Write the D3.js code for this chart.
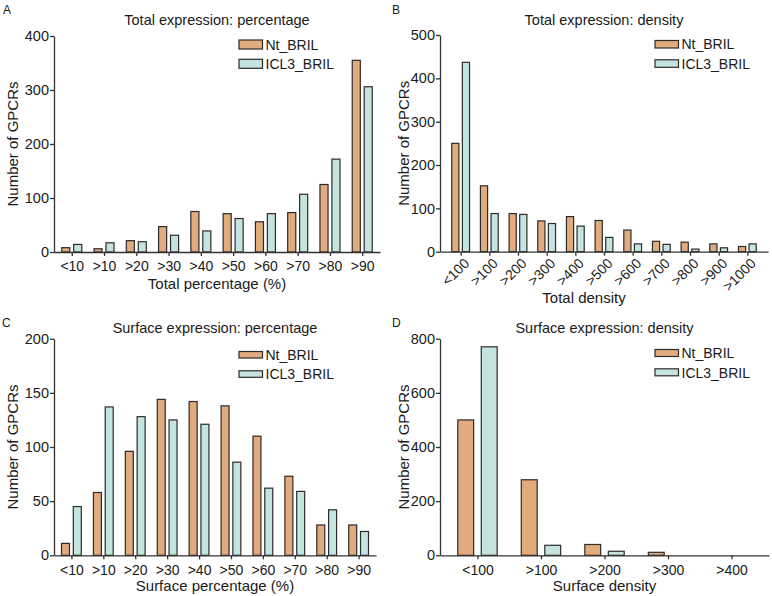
<!DOCTYPE html>
<html><head><meta charset="utf-8">
<script src="https://cdn.jsdelivr.net/npm/d3@7"></script>
<style>
html,body{margin:0;padding:0;background:#fff;}
svg{display:block;font-family:"Liberation Sans",Arial,Helvetica,sans-serif;}
</style></head>
<body>
<svg id="chart" width="772" height="596"></svg>
<script>
// ---- data ----
const seriesNames = ["Nt_BRIL", "ICL3_BRIL"];
const seriesColors = ["#E2AB7E", "#C6E4DF"];

const catsA = ["<10", ">10", ">20", ">30", ">40", ">50", ">60", ">70", ">80", ">90"];
const ntA   = [8, 6, 21, 47, 75, 71, 56, 73, 125, 355];
const iclA  = [14, 17, 19, 31, 39, 62, 71, 107, 172, 306];
const ticksA = [0, 100, 200, 300, 400];

const catsB = ["<100", ">100", ">200", ">300", ">400", ">500", ">600", ">700", ">800", ">900", ">1000"];
const ntB   = [250, 152, 88, 71, 81, 72, 50, 24, 22, 18, 12];
const iclB  = [437, 88, 86, 65, 59, 33, 18, 17, 6, 9, 18];
const ticksB = [0, 100, 200, 300, 400, 500];

const catsC = ["<10", ">10", ">20", ">30", ">40", ">50", ">60", ">70", ">80", ">90"];
const ntC   = [11, 58, 96, 144, 142, 138, 110, 73, 28, 28];
const iclC  = [45, 137, 128, 125, 121, 86, 62, 59, 42, 22];
const ticksC = [0, 50, 100, 150, 200];

const catsD = ["<100", ">100", ">200", ">300", ">400"];
const ntD   = [500, 279, 40, 11, 0];
const iclD  = [770, 37, 15, 0, 0];
const ticksD = [0, 200, 400, 600, 800];

// ---- layout ----
const panels = [
  {letter:"A", lx:3, ly:14, title:"Total expression: percentage", xTitle:"Total percentage (%)",
   cats:catsA, vals:[ntA, iclA], ticks:ticksA, x0:54, x1:380, y0:252, y1:36, pad:0.55,
   titleY:25, xTitleY:288.5, xTitleX:null, legX:239, legY:40, swH:9, rotate:false, yTitleX:18},
  {letter:"B", lx:392, ly:14, title:"Total expression: density", xTitle:"Total density",
   cats:catsB, vals:[ntB, iclB], ticks:ticksB, x0:440, x1:768, y0:251.7, y1:35, pad:0.72,
   titleY:25, xTitleY:303, xTitleX:584, legX:655, legY:40.5, swH:7.5, rotate:true, yTitleX:409},
  {letter:"C", lx:2, ly:327, title:"Surface expression: percentage", xTitle:"Surface percentage (%)",
   cats:catsC, vals:[ntC, iclC], ticks:ticksC, x0:54, x1:376, y0:555.3, y1:338.7, pad:0.545,
   titleY:333, xTitleY:591, xTitleX:null, legX:239, legY:351.5, swH:6.5, rotate:false, yTitleX:18},
  {letter:"D", lx:392, ly:327, title:"Surface expression: density", xTitle:"Surface density",
   cats:catsD, vals:[ntD, iclD], ticks:ticksD, x0:440, x1:769, y0:555.3, y1:338.7, pad:0.59,
   titleY:333, xTitleY:591, xTitleX:null, legX:655, legY:349.5, swH:7, rotate:false, yTitleX:409}
];

const svg = d3.select("#chart");
const txt = "#1a1a1a", axisCol = "#333";

panels.forEach(p => {
  const g = svg.append("g");
  const x = d3.scalePoint().domain(p.cats).range([p.x0, p.x1]).padding(p.pad);
  const y = d3.scaleLinear().domain([p.ticks[0], p.ticks[p.ticks.length-1]]).range([p.y0, p.y1]);
  const step = x.step();
  const bw = step * 0.25, gap = step * 0.12;

  // bars
  p.vals.forEach((vals, si) => {
    const off = si === 0 ? -(gap/2 + bw) : gap/2;
    g.append("g").selectAll("rect").data(vals.map((v,i)=>({c:p.cats[i], v})))
      .join("rect")
      .filter(d => d.v > 0)
      .attr("x", d => x(d.c) + off)
      .attr("width", bw)
      .attr("y", d => y(d.v))
      .attr("height", d => y(0) - y(d.v))
      .attr("fill", seriesColors[si])
      .attr("stroke", "#2b2b2b")
      .attr("stroke-width", 1.2);
  });

  // y axis
  const ya = g.append("g").attr("transform", `translate(${p.x0},0)`)
    .call(d3.axisLeft(y).tickValues(p.ticks).tickSize(4).tickSizeOuter(0).tickPadding(1));
  ya.select(".domain").attr("stroke", axisCol).attr("stroke-width", 1.3);
  ya.selectAll(".tick line").attr("stroke", axisCol).attr("stroke-width", 1.3);
  ya.selectAll(".tick text").attr("font-size", 14.5).attr("fill", txt).attr("font-family", null);

  // x axis
  const xa = g.append("g").attr("transform", `translate(0,${p.y0})`)
    .call(d3.axisBottom(x).tickSize(4).tickSizeOuter(0).tickPadding(5.5));
  xa.select(".domain").attr("stroke", axisCol).attr("stroke-width", 1.3);
  xa.selectAll(".tick line").attr("stroke", axisCol).attr("stroke-width", 1.3);
  xa.selectAll(".tick text").attr("font-size", 14).attr("fill", txt).attr("font-family", null);
  if (p.rotate) {
    xa.selectAll(".tick text")
      .attr("x", 0).attr("y", 0).attr("dy", 0)
      .attr("text-anchor", "end")
      .attr("transform", "translate(9,12.5) rotate(-45)");
  }

  // titles
  const cx = (p.x0 + p.x1) / 2;
  g.append("text").attr("x", cx).attr("y", p.titleY).attr("text-anchor", "middle")
    .attr("font-size", 14.5).attr("fill", txt).text(p.title);
  g.append("text").attr("x", p.xTitleX ?? cx).attr("y", p.xTitleY).attr("text-anchor", "middle")
    .attr("font-size", 15).attr("fill", txt).text(p.xTitle);
  g.append("text").attr("transform", `translate(${p.yTitleX},${(p.y0+p.y1)/2}) rotate(-90)`)
    .attr("text-anchor", "middle").attr("font-size", 15).attr("fill", txt).text("Number of GPCRs");
  g.append("text").attr("x", p.lx).attr("y", p.ly).attr("font-size", 12).attr("fill", txt).text(p.letter);

  // legend
  seriesNames.forEach((name, si) => {
    const yy = p.legY + si * 19.3;
    g.append("rect").attr("x", p.legX).attr("y", yy).attr("width", 23.5).attr("height", p.swH)
      .attr("fill", seriesColors[si]).attr("stroke", "#2b2b2b").attr("stroke-width", 1.2);
    g.append("text").attr("x", p.legX + 26.5).attr("y", yy + p.swH/2 + 5.2)
      .attr("font-size", 14).attr("fill", txt).text(name);
  });
});
</script>
</body></html>
